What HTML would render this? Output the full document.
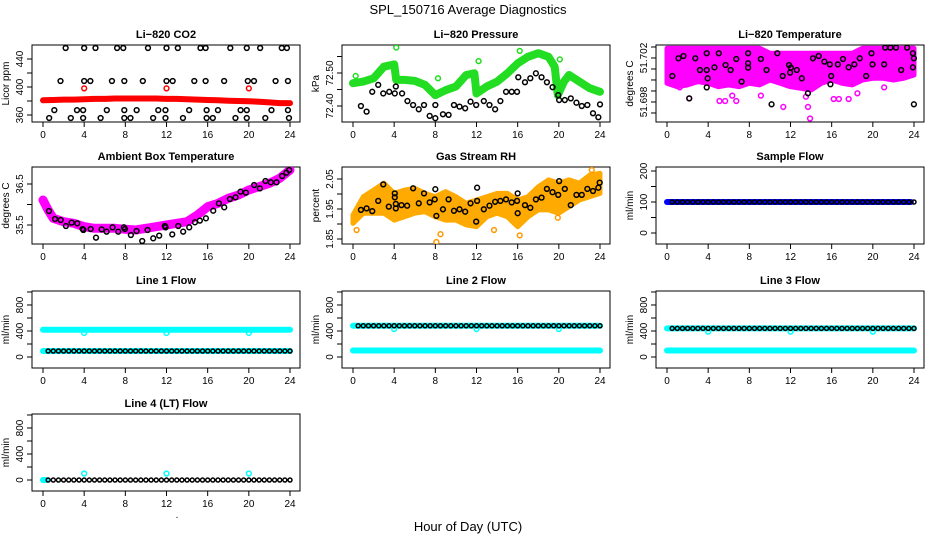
<!DOCTYPE html>
<html><head><meta charset="utf-8"><title>SPL_150716 Average Diagnostics</title>
<style>
html,body{margin:0;padding:0;background:#fff;}
svg{display:block;font-family:"Liberation Sans",sans-serif;}
</style></head>
<body>
<svg id="chart" width="936" height="540" viewBox="0 0 936 540" xmlns="http://www.w3.org/2000/svg">
<text x="468" y="14" text-anchor="middle" font-size="13">SPL_150716  Average Diagnostics</text>
<text x="468" y="531" text-anchor="middle" font-size="13">Hour of Day (UTC)</text>
<text x="177" y="518" text-anchor="middle" font-size="10">.</text>
</svg>
<script>
// ---------- data ----------
const xTicks = [0,4,8,12,16,20,24];
// CO2
const co2RedHours = [0,1,2,3,4,5,6,7,8,9,10,11,12,13,14,15,16,17,18,19,20,21,22,23,24];
const co2RedVals = [381,381.5,382,382,382.5,383,383,383.5,383.5,383.5,383.5,383.5,383,383,382.5,382,381.5,381,380.5,380,379.5,379,378,377,377];
const co2RedOutHours = [4,12,20];
const co2RedOutVals = [398,398,398];
const co2BlackHours = [2.2,4.0,5.1,7.2,7.8,10.2,12,13.1,15.3,15.8,18.2,19.8,21.1,23.2,23.7,
 1.7,4,4.6,6.7,7.9,9.7,12,12.6,14.7,15.8,17.6,19.9,20.5,22.6,23.8,
 1.1,3.3,3.9,6.2,7.9,9.1,11.2,11.9,14.2,15.9,17,19.2,19.8,22.2,23.8,
 0.6,2.7,3.9,5.6,7.9,8.5,10.7,11.9,13.6,15.9,16.5,18.7,19.8,21.6,23.9];
const co2BlackVals = [455.7,455.7,455.7,455.7,455.7,455.7,455.7,455.7,455.7,455.7,455.7,455.7,455.7,455.7,455.7,
 408.6,408.6,408.6,408.6,408.6,408.6,408.6,408.6,408.6,408.6,408.6,408.6,408.6,408.6,408.6,
 367,367,367,367,367,367,367,367,367,367,367,367,367,367,367,
 355.7,355.7,355.7,355.7,355.7,355.7,355.7,355.7,355.7,355.7,355.7,355.7,355.7,355.7,355.7];
// Pressure
const presGreenHours = [0,1,2,3,4,4.2,5,6,7,8,9,10,11,11.8,12,13,14,15,16,17,18,19,19.6,19.9,20.5,21,22,23,24];
const presGreenVals = [72.469,72.474,72.484,72.519,72.526,72.479,72.479,72.476,72.464,72.433,72.448,72.459,72.494,72.499,72.438,72.459,72.474,72.499,72.529,72.549,72.560,72.549,72.519,72.433,72.474,72.494,72.474,72.454,72.443];
const presGreenOutHours = [4.2,12.2,16.2,20.1,8.26,0.26];
const presGreenOutVals = [72.577,72.536,72.567,72.541,72.484,72.491];
const presBlackHours = [0.77,1.32,1.87,2.45,2.94,3.52,4.06,4.16,4.77,5.29,5.84,6.39,6.9,7.45,8.0,8.0,8.74,9.29,9.81,10.35,10.9,11.42,11.97,12.71,13.26,13.81,14.32,14.87,15.42,15.94,16.06,16.71,17.23,17.77,18.32,18.84,19.39,19.94,20.03,20.58,21.16,21.71,22.23,22.77,23.32,23.84,24.0];
const presBlackVals = [72.400,72.383,72.443,72.464,72.438,72.443,72.438,72.459,72.438,72.415,72.403,72.390,72.403,72.370,72.363,72.403,72.375,72.373,72.403,72.398,72.393,72.413,72.403,72.415,72.403,72.390,72.415,72.443,72.443,72.443,72.487,72.472,72.484,72.499,72.487,72.472,72.457,72.433,72.418,72.418,72.423,72.410,72.400,72.403,72.378,72.366,72.405];
// Li-820 temperature
const tempBandHours = [0,1,2,3,4,5,6,7,8,9,10,11,12,13,14,15,16,17,18,19,20,21,22,23,24];
const tempBandLow = [51.6997,51.69939,51.69955,51.69985,51.6997,51.69939,51.69955,51.69939,51.6997,51.69955,51.7,51.6997,51.69939,51.69924,51.69909,51.6997,51.7,51.6997,51.69955,51.7,51.70015,51.70015,51.7,51.70015,51.70045];
const tempBandHigh = [51.70288,51.70288,51.70288,51.70288,51.70288,51.70288,51.70288,51.70288,51.70288,51.70288,51.70243,51.70243,51.70243,51.70243,51.70243,51.70243,51.70243,51.70243,51.70243,51.70288,51.70288,51.70288,51.70288,51.70288,51.70288];
const tempMagOutHours = [2.16,5.1,5.65,6.73,6.34,9.12,11.3,13.5,13.7,13.9,16.2,16.7,17.65,18.5,21.1,0.85,1.24];
const tempMagOutVals = [51.69833,51.69809,51.69809,51.69809,51.69858,51.69858,51.69755,51.69848,51.69755,51.6965,51.69827,51.69827,51.69827,51.69879,51.69933,51.69985,51.69933];
const tempBlackHours = [0.52,1.11,1.6,2.16,2.75,3.2,3.86,3.86,3.95,3.86,4.61,5.03,5.69,6.18,6.73,7.25,7.88,7.88,7.88,9.12,9.67,10.16,10.72,11.24,11.86,11.96,12.03,12.61,13.1,13.69,14.18,14.74,15.29,15.82,15.88,15.95,16.6,17.1,17.65,18.2,18.73,19.35,19.87,19.97,21.1,21.2,21.7,22.25,22.75,23.33,23.89,23.99,23.89,23.99];
const tempBlackVals = [51.70036,51.70197,51.70218,51.69833,51.70197,51.70091,51.70091,51.70243,51.70015,51.69933,51.70115,51.70243,51.70136,51.70091,51.70191,51.69985,51.70243,51.70152,51.70112,51.70191,51.70091,51.69779,51.70243,51.70036,51.70136,51.70067,51.70112,51.70091,51.70015,51.69879,51.70197,51.70218,51.70167,51.70142,51.69961,51.70036,51.70142,51.70191,51.70115,51.70142,51.70197,51.70036,51.70243,51.70142,51.70142,51.70294,51.70294,51.70294,51.70091,51.70294,51.70243,51.70197,51.70115,51.69779];
// Ambient box temperature
const ambHours = [0,0.5,1,2,3,4,5,6,7,8,9,10,11,12,13,14,15,16,17,18,19,20,21,22,23,24];
const ambVals = [36.110,35.866,35.663,35.581,35.541,35.459,35.419,35.419,35.419,35.394,35.378,35.419,35.459,35.5,35.541,35.581,35.744,35.947,36.028,36.150,36.232,36.354,36.435,36.516,36.638,36.841];
const ambBlackHours = [0.58,1.17,1.72,2.23,2.78,3.33,3.85,3.92,4.63,5.15,5.7,6.18,6.76,7.31,7.86,7.96,8.54,9.09,9.64,10.16,10.71,11.29,11.84,11.91,12.56,13.14,13.62,14.21,14.76,15.24,15.83,16.54,17.09,17.61,18.16,18.71,19.19,19.71,20.52,21.07,21.62,22.14,22.69,23.24,23.66,23.92];
const ambBlackVals = [35.841,35.646,35.622,35.476,35.557,35.541,35.402,35.378,35.402,35.191,35.394,35.337,35.443,35.337,35.443,35.402,35.256,35.354,35.110,35.378,35.175,35.240,35.476,35.443,35.272,35.476,35.337,35.443,35.565,35.606,35.663,35.849,36.028,35.931,36.134,36.175,36.313,36.289,36.476,36.394,36.573,36.541,36.541,36.695,36.776,36.841];
// Gas stream RH
const rhBandHours = [0,1,2,3,4,5,6,7,8,9,10,11,12,13,14,15,16,17,18,19,20,21,22,23,24];
const rhBandLow = [1.902,1.936,1.936,1.936,1.913,1.924,1.936,1.941,1.924,1.913,1.913,1.897,1.891,1.924,1.936,1.924,1.891,1.924,1.947,1.947,1.936,1.958,1.980,1.991,2.002];
const rhBandHigh = [1.930,1.991,2.013,2.036,2.002,2.013,2.019,2.002,1.991,2.008,1.991,1.969,1.980,1.991,2.002,2.002,1.980,1.991,2.024,2.047,2.036,2.047,2.036,2.063,2.069];
const rhOutHours = [8.1,0.35,13.7,16.2,19.9,8.5,23.2];
const rhOutVals = [1.84,1.88,1.88,1.862,1.921,1.866,2.08];
const rhBlackHours = [0.77,1.32,1.87,2.45,2.94,3.48,4.06,4.06,4.16,4.16,4.71,5.26,5.84,6.39,6.9,7.45,7.94,8.0,8.1,8.74,9.29,9.81,10.35,10.9,11.42,11.97,12.06,12.06,12.71,13.26,13.81,14.32,14.87,15.42,15.94,16.0,16.0,16.71,17.23,17.77,18.32,18.84,19.39,19.94,20.03,20.58,21.16,21.71,22.23,22.77,23.32,23.84,23.97];
const rhBlackVals = [1.947,1.952,1.943,1.977,2.032,1.958,2.002,1.989,1.952,1.967,1.963,1.961,2.019,1.969,2.002,1.972,1.982,2.016,1.927,1.949,1.982,1.944,1.949,1.941,1.969,1.908,1.977,2.021,1.949,1.961,1.974,1.977,1.982,1.972,1.977,1.936,2.002,1.963,1.954,1.982,1.988,2.017,2.006,1.997,2.043,2.017,1.963,1.997,1.997,2.017,2.010,2.021,2.038];
// Flows
const halfHours = [0.5,1,1.5,2,2.5,3,3.5,4,4.5,5,5.5,6,6.5,7,7.5,8,8.5,9,9.5,10,10.5,11,11.5,12,12.5,13,13.5,14,14.5,15,15.5,16,16.5,17,17.5,18,18.5,19,19.5,20,20.5,21,21.5,22,22.5,23,23.5,24];
const sampleBlack = [100,100,100,100,100,100,100,100,100,100,100,100,100,100,100,100,100,100,100,100,100,100,100,100,100,100,100,100,100,100,100,100,100,100,100,100,100,100,100,100,100,100,100,100,100,100,100,100];
const sampleBandHours = [0,23.7];
const sampleBandVals = [100,100];
const line1Black = [92,92,92,92,92,92,92,92,92,92,92,92,92,92,92,92,92,92,92,92,92,92,92,92,92,92,92,92,92,92,92,92,92,92,92,92,92,92,92,92,92,92,92,92,92,92,92,92];
const line1CyanHours = [0,24];
const line1CyanHigh = [420,420];
const line1CyanLow = [92,92];
const line1CyanDipHours = [4,12,20];
const line1CyanDipVals = [370,370,370];
const line2Black = [480,480,480,480,480,480,480,480,480,480,480,480,480,480,480,480,480,480,480,480,480,480,480,480,480,480,480,480,480,480,480,480,480,480,480,480,480,480,480,480,480,480,480,480,480,480,480,480];
const line2CyanHigh = [480,480];
const line2CyanLow = [100,100];
const line2CyanDipVals = [430,430,430];
const line3Black = [440,440,440,440,440,440,440,440,440,440,440,440,440,440,440,440,440,440,440,440,440,440,440,440,440,440,440,440,440,440,440,440,440,440,440,440,440,440,440,440,440,440,440,440,440,440,440,440];
const line3CyanHigh = [440,440];
const line3CyanLow = [100,100];
const line3CyanDipVals = [390,390,390];
const line4Black = [0,0,0,0,0,0,0,0,0,0,0,0,0,0,0,0,0,0,0,0,0,0,0,0,0,0,0,0,0,0,0,0,0,0,0,0,0,0,0,0,0,0,0,0,0,0,0,0];
const line4CyanHours = [0,0.3];
const line4CyanVals = [0,0];
const line4CyanOutVals = [100,100,100];

// ---------- drawing ----------
const NS = "http://www.w3.org/2000/svg";
const svg = document.getElementById('chart');
const COLS = [32,342,656], ROWS = [45,167,291,414], W = 268, H = 77;
function mk(tag, attrs, parent){
  const e = document.createElementNS(NS, tag);
  for (const k in attrs) e.setAttribute(k, attrs[k]);
  (parent||svg).appendChild(e);
  return e;
}
function panel(key, col, row, ymin, ymax, ticks, labels, ylab, title){
  const L = COLS[col], T = ROWS[row];
  const g = mk('g', {});
  
  
  const x = h => L + 11 + h * (247/24);
  const y = v => T + H - (v - ymin) / (ymax - ymin) * H;
  const t = mk('text', {x: L + W/2, y: T - 7, 'text-anchor':'middle', 'font-size':11, 'font-weight':'bold'}, g);
  t.textContent = title;
  
  
  const box = mk('rect', {x: L, y: T, width: W, height: H, fill:'none', stroke:'#000', 'stroke-width':1}, g);
  
  
  const xa = mk('g', {}, g);
  
  
  xTicks.forEach(v => {
    mk('line', {x1:x(v), x2:x(v), y1:T+H, y2:T+H+5, stroke:'#000'}, xa);
    const l = mk('text', {x:x(v), y:T+H+16, 'text-anchor':'middle', 'font-size':10}, xa);
    l.textContent = v;
  });
  const ya = mk('g', {}, g);
  
  
  mk('line', {x1:L, x2:L, y1:y(ticks[0]), y2:y(ticks[ticks.length-1]), stroke:'#000'}, ya);
  ticks.forEach(v => mk('line', {x1:L-5, x2:L, y1:y(v), y2:y(v), stroke:'#000'}, ya));
  labels.forEach(v => {
    const tx = L - 9, ty = y(v);
    const l = mk('text', {x:tx, y:ty, 'text-anchor':'middle', 'font-size':10, transform:`rotate(-90 ${tx} ${ty})`}, ya);
    l.textContent = v;
  });
  const ttx = L - 23, tty = T + H/2;
  const yt = mk('text', {x:ttx, y:tty, 'text-anchor':'middle', 'font-size':10, transform:`rotate(-90 ${ttx} ${tty})`}, g);
  yt.textContent = ylab;
  
  
  const clip = 'clip-' + key;
  const cp = mk('clipPath', {id: clip}, g);
  mk('rect', {x:L, y:T, width:W, height:H}, cp);
  const plot = mk('g', {'clip-path':`url(#${clip})`}, g);
  return {x, y, g: plot};
}
function points(p, hs, vs, color, name, r){
  const g = mk('g', {}, p.g);
  
  
  hs.forEach((h,i) => {
    const c = mk('circle', {cx:p.x(h), cy:p.y(vs[i]), r:r||2.4, fill:'none', stroke:color, 'stroke-width':1.5}, g);
    
    
  });
}
function thickLine(p, hs, vs, color, width, name){
  const d = hs.map((h,i)=>(i?'L':'M')+p.x(h).toFixed(1)+','+p.y(vs[i]).toFixed(1)).join(' ');
  const e = mk('path', {d, fill:'none', stroke:color, 'stroke-width':width, 'stroke-linejoin':'round', 'stroke-linecap':'round'}, p.g);
  
  
}
function band(p, hs, lo, hi, color, name){
  let d = hs.map((h,i)=>(i?'L':'M')+p.x(h).toFixed(1)+','+p.y(hi[i]).toFixed(1)).join(' ');
  for (let i = hs.length-1; i >= 0; i--) d += ' L'+p.x(hs[i]).toFixed(1)+','+p.y(lo[i]).toFixed(1);
  const e = mk('path', {d: d+' Z', fill:color, stroke:color, 'stroke-width':5, 'stroke-linejoin':'round'}, p.g);
  
  
}

// Li-820 CO2
let p = panel('co2', 0, 0, 350, 460, [360,380,400,420,440], [360,400,440], 'Licor ppm', 'Li\u2212820 CO2');
thickLine(p, co2RedHours, co2RedVals, '#ff0000', 6, 'co2-red-series');
points(p, co2RedOutHours, co2RedOutVals, '#ff0000', 'co2-red-outliers');
points(p, co2BlackHours, co2BlackVals, '#000', 'co2-black-series');

// Pressure
p = panel('pressure', 1, 0, 72.3515, 72.5848, [72.40,72.45,72.50,72.55], ['72.40','72.50'], 'kPa', 'Li\u2212820 Pressure');
thickLine(p, presGreenHours, presGreenVals, '#22dd22', 8, 'pressure-green-series');
points(p, presGreenOutHours, presGreenOutVals, '#22dd22', 'pressure-green-outliers');
points(p, presBlackHours, presBlackVals, '#000', 'pressure-black-series');

// Li-820 temperature
p = panel('li820-temp', 2, 0, 51.69618, 51.70318, [51.697,51.698,51.699,51.700,51.701,51.702,51.703], ['51.698','51.702'], 'degrees C', 'Li\u2212820 Temperature');
band(p, tempBandHours, tempBandLow, tempBandHigh, '#ff00ff', 'temp-magenta-band');
points(p, tempMagOutHours, tempMagOutVals, '#ff00ff', 'temp-magenta-outliers');
points(p, tempBlackHours, tempBlackVals, '#000', 'temp-black-series');

// Ambient
p = panel('ambient', 0, 1, 35.0366, 36.9146, [35.5,36.0,36.5], ['35.5','36.5'], 'degrees C', 'Ambient Box Temperature');
thickLine(p, ambHours, ambVals, '#ff00ff', 9, 'ambient-magenta-series');
points(p, ambBlackHours, ambBlackVals, '#000', 'ambient-black-series');

// RH
p = panel('rh', 1, 1, 1.8333, 2.09, [1.85,1.90,1.95,2.00,2.05], ['1.85','1.95','2.05'], 'percent', 'Gas Stream RH');
band(p, rhBandHours, rhBandLow, rhBandHigh, '#ffaa00', 'rh-orange-band');
points(p, rhOutHours, rhOutVals, '#ff9900', 'rh-orange-outliers');
points(p, rhBlackHours, rhBlackVals, '#000', 'rh-black-series');

// Sample flow
p = panel('sample-flow', 2, 1, -35.5, 212.9, [0,50,100,150,200], [0,100,200], 'ml/min', 'Sample Flow');
thickLine(p, sampleBandHours, sampleBandVals, '#0000ff', 6, 'sample-blue-series');
points(p, halfHours, sampleBlack, '#000', 'sample-black-series', 2);

const flowTicks = [0,200,400,600,800,1000], flowLabels = [0,400,800];
// Line 1
p = panel('line1-flow', 0, 2, -169, 1015, flowTicks, flowLabels, 'ml/min', 'Line 1 Flow');
thickLine(p, line1CyanHours, line1CyanHigh, '#00ffff', 6, 'line1-cyan-high');
thickLine(p, line1CyanHours, line1CyanLow, '#00ffff', 6, 'line1-cyan-low');
points(p, line1CyanDipHours, line1CyanDipVals, '#00ffff', 'line1-cyan-dips');
points(p, halfHours, line1Black, '#000', 'line1-black-series', 2);
// Line 2
p = panel('line2-flow', 1, 2, -169, 1015, flowTicks, flowLabels, 'ml/min', 'Line 2 Flow');
thickLine(p, line1CyanHours, line2CyanHigh, '#00ffff', 6, 'line2-cyan-high');
thickLine(p, line1CyanHours, line2CyanLow, '#00ffff', 6, 'line2-cyan-low');
points(p, line1CyanDipHours, line2CyanDipVals, '#00ffff', 'line2-cyan-dips');
points(p, halfHours, line2Black, '#000', 'line2-black-series', 2);
// Line 3
p = panel('line3-flow', 2, 2, -169, 1015, flowTicks, flowLabels, 'ml/min', 'Line 3 Flow');
thickLine(p, line1CyanHours, line3CyanHigh, '#00ffff', 6, 'line3-cyan-high');
thickLine(p, line1CyanHours, line3CyanLow, '#00ffff', 6, 'line3-cyan-low');
points(p, line1CyanDipHours, line3CyanDipVals, '#00ffff', 'line3-cyan-dips');
points(p, halfHours, line3Black, '#000', 'line3-black-series', 2);
// Line 4
p = panel('line4-flow', 0, 3, -169, 1015, flowTicks, flowLabels, 'ml/min', 'Line 4 (LT) Flow');
thickLine(p, line4CyanHours, line4CyanVals, '#00ffff', 6, 'line4-cyan-series');
points(p, line1CyanDipHours, line4CyanOutVals, '#00ffff', 'line4-cyan-outliers');
points(p, halfHours, line4Black, '#000', 'line4-black-series', 2);
</script>
</body></html>
